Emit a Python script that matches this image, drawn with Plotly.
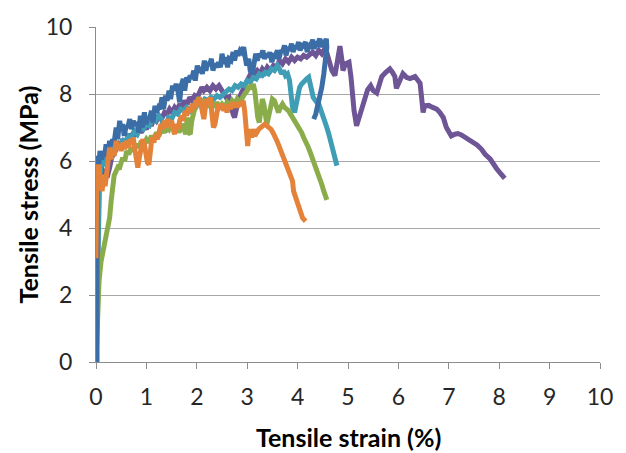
import plotly.graph_objects as go

# Tensile stress-strain curves for five specimens (strain in %, stress in MPa)
strain_a = [0.02, 0.02, 0.05, 0.08, 0.11, 0.14, 0.17, 0.20, 0.23, 0.27, 0.30, 0.33, 0.36, 0.40,
            0.43, 0.47, 0.50, 0.53, 0.56, 0.60, 0.63, 0.67, 0.70, 0.74, 0.77, 0.81, 0.85, 0.88,
            0.92, 0.96, 0.99, 1.03, 1.06, 1.10, 1.13, 1.17, 1.20, 1.24, 1.27, 1.31, 1.34, 1.38,
            1.41, 1.45, 1.48, 1.52, 1.55, 1.59, 1.62, 1.66, 1.69, 1.73, 1.76, 1.80, 1.83, 1.87,
            1.90, 1.94, 1.97, 2.01, 2.04, 2.08, 2.11, 2.15, 2.18, 2.22, 2.25, 2.29, 2.32, 2.36,
            2.40, 2.43, 2.47, 2.50, 2.54, 2.57, 2.61, 2.64, 2.68, 2.72, 2.75, 2.79, 2.82, 2.86,
            2.89, 2.93, 2.96, 2.99, 3.03, 3.06, 3.10, 3.13, 3.17, 3.20, 3.24, 3.27, 3.31, 3.34,
            3.38, 3.42, 3.45, 3.49, 3.53, 3.56, 3.60, 3.63, 3.67, 3.70, 3.74, 3.77, 3.81, 3.84,
            3.88, 3.91, 3.95, 3.98, 4.02, 4.05, 4.09, 4.12, 4.16, 4.19, 4.23, 4.26, 4.30, 4.33,
            4.37, 4.40, 4.44, 4.47, 4.51, 4.54, 4.57, 4.58, 4.56, 4.52, 4.48, 4.44, 4.40, 4.36,
            4.32]
stress_a = [0.00, 6.15, 5.85, 6.30, 6.05, 6.20, 6.15, 6.50, 6.20, 6.60, 6.45, 6.65, 6.55, 7.00,
            6.65, 7.20, 6.90, 7.10, 6.75, 7.05, 7.00, 7.25, 6.95, 7.20, 7.05, 7.15, 6.85, 7.35,
            7.00, 7.45, 7.10, 7.30, 7.25, 7.50, 7.15, 7.65, 7.45, 7.60, 7.55, 7.90, 7.55, 7.95,
            7.80, 8.10, 7.85, 8.25, 8.10, 8.30, 8.15, 7.75, 8.25, 8.45, 8.10, 8.50, 8.35, 8.55,
            8.45, 8.70, 8.40, 8.85, 8.65, 8.80, 8.60, 9.00, 8.70, 8.95, 8.85, 9.05, 8.70, 8.90,
            8.80, 8.95, 8.80, 9.20, 8.90, 9.10, 8.80, 9.05, 9.00, 9.25, 9.00, 9.30, 9.15, 9.30,
            9.25, 9.40, 9.10, 8.85, 9.05, 8.70, 8.60, 8.95, 9.20, 9.00, 9.20, 9.10, 9.30, 9.05,
            9.20, 9.10, 9.25, 8.95, 9.20, 9.15, 9.30, 9.05, 9.30, 9.25, 9.45, 9.15, 9.40, 9.30,
            9.50, 9.25, 9.45, 9.35, 9.55, 9.30, 9.50, 9.45, 9.55, 9.25, 9.50, 9.45, 9.62, 9.35,
            9.55, 9.50, 9.65, 9.40, 9.60, 9.50, 9.65, 9.40, 9.00, 8.60, 8.20, 7.90, 7.60, 7.40,
            7.25]

strain_b = [0.00, 0.01, 0.02, 0.04, 0.06, 0.08, 0.10, 0.12, 0.15, 0.18, 0.21, 0.24, 0.27, 0.30,
            0.33, 0.36, 0.40, 0.43, 0.47, 0.50, 0.54, 0.57, 0.61, 0.64, 0.68, 0.71, 0.74, 0.77,
            0.80, 0.83, 0.86, 0.89, 0.93, 0.96, 0.99, 1.02, 1.05, 1.08, 1.11, 1.15, 1.18, 1.22,
            1.26, 1.29, 1.32, 1.36, 1.39, 1.43, 1.46, 1.50, 1.53, 1.56, 1.59, 1.63, 1.66, 1.70,
            1.73, 1.77, 1.80, 1.84, 1.87, 1.91, 1.94, 1.98, 2.01, 2.05, 2.08, 2.11, 2.14, 2.17,
            2.20, 2.24, 2.27, 2.30, 2.33, 2.36, 2.39, 2.43, 2.46, 2.50, 2.53, 2.57, 2.60, 2.64,
            2.67, 2.71, 2.74, 2.78, 2.81, 2.85, 2.88, 2.92, 2.95, 2.97, 2.99, 3.01, 3.03, 3.06,
            3.09, 3.12, 3.15, 3.19, 3.23, 3.27, 3.31, 3.35, 3.39, 3.43, 3.47, 3.51, 3.55, 3.59,
            3.63, 3.67, 3.71, 3.74, 3.77, 3.80, 3.84, 3.87, 3.90, 3.92, 3.95, 3.98, 4.01, 4.04,
            4.07, 4.10, 4.13, 4.16]
stress_b = [3.10, 4.60, 5.90, 5.50, 5.90, 5.15, 5.60, 5.10, 5.50, 5.25, 5.60, 5.90, 6.40, 6.05,
            6.30, 6.15, 6.60, 6.35, 6.50, 6.30, 6.55, 6.35, 6.60, 6.40, 6.65, 6.50, 6.70, 6.35,
            6.00, 5.80, 6.10, 6.40, 6.65, 6.50, 6.20, 5.95, 5.90, 6.35, 6.70, 6.55, 6.80, 6.65,
            6.90, 7.10, 6.95, 7.20, 7.00, 7.25, 7.10, 7.20, 6.95, 6.80, 7.10, 6.95, 7.20, 7.35,
            7.20, 7.50, 7.35, 7.60, 7.45, 7.70, 7.55, 7.80, 7.65, 7.90, 7.70, 7.40, 7.25, 7.60,
            7.85, 7.70, 7.90, 7.40, 7.00, 7.10, 7.50, 7.70, 7.55, 7.70, 7.50, 7.65, 7.45, 7.70,
            7.55, 7.75, 7.60, 7.75, 7.60, 7.75, 7.65, 7.80, 7.50, 7.00, 6.60, 6.45, 6.80, 6.95,
            6.70, 6.95, 6.75, 6.90, 6.95, 7.00, 7.05, 7.10, 7.05, 7.00, 6.95, 6.85, 6.75, 6.60,
            6.45, 6.30, 6.20, 6.05, 5.95, 5.80, 5.70, 5.55, 5.40, 5.10, 4.95, 4.80, 4.70, 4.55,
            4.40, 4.30, 4.25, 4.20]

strain_c = [0.00, 0.03, 0.06, 0.10, 0.15, 0.20, 0.23, 0.27, 0.30, 0.33, 0.36, 0.40, 0.43, 0.46,
            0.49, 0.53, 0.57, 0.61, 0.65, 0.70, 0.75, 0.80, 0.85, 0.90, 0.95, 1.00, 1.05, 1.10,
            1.15, 1.20, 1.25, 1.30, 1.35, 1.40, 1.45, 1.50, 1.55, 1.60, 1.65, 1.70, 1.75, 1.78,
            1.81, 1.84, 1.87, 1.90, 1.95, 2.00, 2.04, 2.08, 2.12, 2.16, 2.20, 2.25, 2.30, 2.35,
            2.40, 2.45, 2.50, 2.55, 2.60, 2.65, 2.70, 2.75, 2.80, 2.85, 2.90, 2.95, 3.00, 3.04,
            3.08, 3.12, 3.15, 3.18, 3.21, 3.24, 3.27, 3.30, 3.33, 3.36, 3.39, 3.42, 3.46, 3.50,
            3.54, 3.58, 3.62, 3.66, 3.70, 3.74, 3.78, 3.82, 3.86, 3.90, 3.95, 4.00, 4.04, 4.08,
            4.12, 4.16, 4.20, 4.24, 4.28, 4.32, 4.36, 4.40, 4.44, 4.48, 4.52, 4.55, 4.58]
stress_c = [0.00, 1.50, 2.40, 3.00, 3.40, 3.70, 3.91, 4.30, 4.80, 5.20, 5.57, 5.70, 5.80, 5.75,
            5.94, 6.10, 6.00, 6.30, 6.20, 6.40, 6.30, 6.50, 6.40, 6.60, 6.50, 6.65, 6.55, 6.75,
            6.65, 6.85, 6.75, 6.95, 6.85, 7.05, 6.95, 7.10, 6.90, 7.05, 6.85, 7.10, 6.95, 6.80,
            7.30, 6.85, 6.80, 7.20, 7.50, 7.70, 7.90, 7.70, 7.85, 7.65, 7.80, 7.60, 7.75, 7.60,
            7.75, 7.60, 7.70, 7.60, 7.75, 7.65, 7.80, 7.70, 7.85, 7.75, 7.90, 8.00, 8.10, 8.25,
            8.15, 8.30, 8.10, 7.60, 7.30, 7.15, 7.50, 7.85, 7.70, 7.35, 7.10, 7.30, 7.60, 7.85,
            7.80, 7.60, 7.45, 7.60, 7.70, 7.60, 7.55, 7.50, 7.40, 7.30, 7.20, 7.10, 6.95, 6.85,
            6.70, 6.60, 6.45, 6.30, 6.15, 6.00, 5.85, 5.65, 5.45, 5.30, 5.10, 5.00, 4.84]

strain_d = [0.00, 0.05, 0.07, 0.10, 0.13, 0.17, 0.20, 0.24, 0.28, 0.33, 0.38, 0.43, 0.48, 0.53,
            0.58, 0.64, 0.70, 0.76, 0.82, 0.88, 0.94, 1.00, 1.06, 1.12, 1.18, 1.24, 1.30, 1.34,
            1.37, 1.40, 1.44, 1.50, 1.56, 1.62, 1.68, 1.74, 1.80, 1.86, 1.92, 1.98, 2.04, 2.10,
            2.16, 2.22, 2.28, 2.34, 2.40, 2.46, 2.52, 2.58, 2.64, 2.70, 2.76, 2.82, 2.88, 2.94,
            3.00, 3.06, 3.12, 3.18, 3.24, 3.30, 3.36, 3.42, 3.48, 3.54, 3.60, 3.64, 3.68, 3.72,
            3.76, 3.80, 3.84, 3.87, 3.90, 3.94, 3.97, 4.00, 4.04, 4.08, 4.13, 4.18, 4.22, 4.25,
            4.28, 4.31, 4.34, 4.38, 4.42, 4.46, 4.50, 4.54, 4.58, 4.62, 4.66, 4.70, 4.74, 4.78]
stress_d = [0.00, 4.20, 5.40, 5.90, 6.10, 5.85, 6.05, 6.20, 6.10, 6.35, 6.30, 6.50, 6.45, 6.65,
            6.55, 6.75, 6.70, 6.90, 6.80, 7.00, 6.95, 7.10, 7.05, 7.25, 7.20, 7.35, 7.25, 7.00,
            6.85, 7.10, 7.30, 7.25, 7.45, 7.40, 7.55, 7.50, 7.60, 7.50, 7.65, 7.60, 7.75, 7.70,
            7.85, 7.80, 7.90, 7.85, 7.95, 7.90, 8.00, 8.05, 8.15, 8.10, 8.25, 8.20, 8.30, 8.25,
            8.40, 8.35, 8.50, 8.45, 8.60, 8.55, 8.65, 8.60, 8.75, 8.70, 8.85, 8.75, 8.60, 8.70,
            8.55, 8.60, 8.40, 8.00, 7.60, 7.45, 7.70, 8.00, 8.20, 8.30, 8.40, 8.45, 8.50, 8.35,
            8.10, 7.90, 7.80, 7.75, 7.70, 7.55, 7.40, 7.20, 7.00, 6.80, 6.55, 6.30, 6.10, 5.86]

strain_e = [0.00, 0.03, 0.06, 0.10, 0.14, 0.18, 0.22, 0.27, 0.31, 0.35, 0.40, 0.45, 0.50, 0.55,
            0.60, 0.65, 0.70, 0.75, 0.80, 0.85, 0.90, 0.95, 1.00, 1.05, 1.10, 1.15, 1.20, 1.25,
            1.30, 1.36, 1.41, 1.46, 1.51, 1.56, 1.61, 1.66, 1.71, 1.76, 1.81, 1.86, 1.91, 1.96,
            2.01, 2.06, 2.10, 2.14, 2.20, 2.26, 2.32, 2.38, 2.44, 2.50, 2.55, 2.60, 2.64, 2.68,
            2.72, 2.75, 2.78, 2.82, 2.86, 2.90, 2.95, 3.00, 3.05, 3.10, 3.15, 3.20, 3.25, 3.30,
            3.35, 3.40, 3.46, 3.52, 3.58, 3.64, 3.70, 3.76, 3.82, 3.88, 3.94, 4.00, 4.06, 4.12,
            4.18, 4.24, 4.30, 4.36, 4.42, 4.48, 4.54, 4.57, 4.62, 4.68, 4.74, 4.80, 4.84, 4.88,
            4.90, 4.95, 5.02, 5.06, 5.08, 5.12, 5.17, 5.22, 5.27, 5.33, 5.39, 5.45, 5.50, 5.57,
            5.62, 5.67, 5.75, 5.83, 5.88, 5.93, 5.96, 6.02, 6.09, 6.16, 6.23, 6.33, 6.43, 6.46,
            6.49, 6.52, 6.60, 6.68, 6.76, 6.82, 6.89, 6.95, 7.00, 7.05, 7.12, 7.18, 7.25, 7.32,
            7.40, 7.48, 7.56, 7.65, 7.72, 7.82, 7.88, 7.95, 8.03, 8.11]
stress_e = [0.00, 3.50, 5.50, 5.90, 5.60, 5.75, 5.50, 5.80, 6.10, 6.20, 6.40, 6.50, 6.40, 6.60,
            6.55, 6.80, 6.70, 6.85, 6.75, 6.95, 6.85, 7.05, 6.95, 7.15, 7.05, 7.30, 7.20, 7.35,
            7.25, 7.45, 7.40, 7.55, 7.45, 7.60, 7.50, 7.70, 7.60, 7.80, 7.70, 7.90, 7.80, 7.95,
            7.90, 8.05, 8.20, 8.10, 8.20, 8.10, 8.25, 8.15, 8.25, 8.10, 8.00, 7.85, 7.90, 7.60,
            7.40, 7.30, 7.55, 7.80, 7.95, 8.10, 8.30, 8.40, 8.55, 8.70, 8.60, 8.70, 8.60, 8.75,
            8.65, 8.80, 8.70, 8.85, 8.80, 9.00, 8.90, 9.05, 8.95, 9.10, 9.00, 9.10, 9.05, 9.15,
            9.10, 9.20, 9.25, 9.15, 9.30, 9.20, 9.35, 9.28, 9.00, 8.70, 8.55, 9.00, 9.43, 9.00,
            8.70, 8.90, 8.95, 8.50, 8.10, 7.50, 7.05, 7.30, 7.65, 7.90, 8.13, 8.25, 8.10, 8.03,
            8.30, 8.52, 8.65, 8.75, 8.65, 8.52, 8.17, 8.40, 8.61, 8.50, 8.46, 8.52, 8.32, 7.90,
            7.45, 7.65, 7.66, 7.60, 7.55, 7.45, 7.30, 7.01, 6.90, 6.75, 6.80, 6.82, 6.78, 6.72,
            6.65, 6.58, 6.48, 6.35, 6.20, 6.06, 5.90, 5.77, 5.62, 5.48]

x_ticks = [0, 1, 2, 3, 4, 5, 6, 7, 8, 9, 10]
y_ticks = [0, 2, 4, 6, 8, 10]

# drawing order: first listed sits at the bottom
series = [
    (strain_e, stress_e, "#6E5595"),
    (strain_d, stress_d, "#3F9DB6"),
    (strain_c, stress_c, "#8BAC4B"),
    (strain_a, stress_a, "#3B6DA7"),
    (strain_b, stress_b, "#E4823A"),
]

fig = go.Figure()
for xs, ys, col in series:
    fig.add_trace(go.Scatter(x=xs, y=ys, mode="lines",
                             line=dict(color=col, width=5), hoverinfo="skip"))

axis_grey = "#8C8C8C"
tick_font = dict(family="Lato", size=23, color="#262626")
title_font = dict(family="Lato", size=25, color="#000000")

fig.update_layout(
    width=626, height=453,
    margin=dict(l=96, r=26, t=17, b=91),
    paper_bgcolor="white", plot_bgcolor="white",
    showlegend=False,
    xaxis=dict(range=[0, 10], tickvals=x_ticks, ticks="outside", ticklen=6,
               tickcolor=axis_grey, showline=True, linecolor=axis_grey, linewidth=1,
               showgrid=False, zeroline=False, tickfont=tick_font,
               ticklabelstandoff=8),
    yaxis=dict(range=[0, 10], tickvals=y_ticks, ticks="outside", ticklen=6,
               tickcolor=axis_grey, showline=True, linecolor=axis_grey, linewidth=1,
               showgrid=True, gridcolor="#A6A6A6", gridwidth=1, zeroline=False,
               tickfont=tick_font, ticklabelstandoff=12),
    annotations=[
        dict(text="<b>Tensile strain (%)</b>", xref="paper", yref="paper",
             x=0.5, y=0, yshift=-75, xanchor="center", yanchor="middle",
             showarrow=False, font=title_font),
        dict(text="<b>Tensile stress (MPa)</b>", xref="paper", yref="paper",
             x=0, y=0.5, xshift=-69, xanchor="center", yanchor="middle",
             textangle=-90, showarrow=False, font=title_font),
    ],
)

fig.write_html("out.html")
